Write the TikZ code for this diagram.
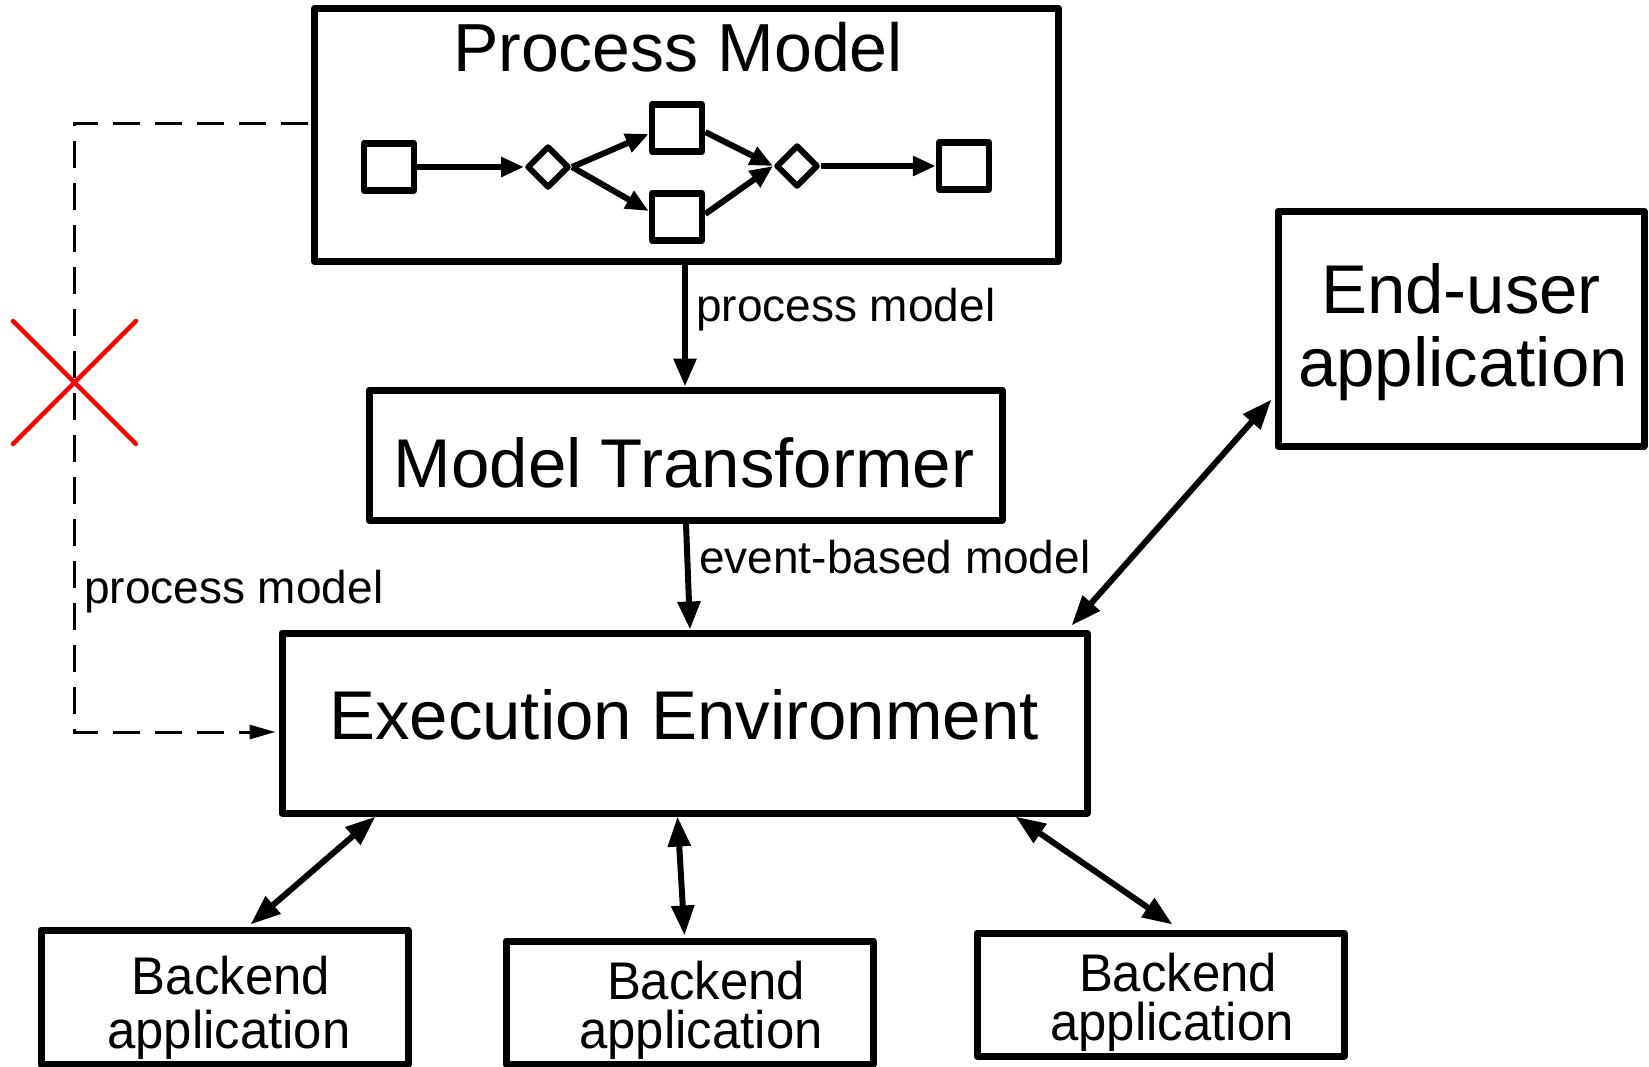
\documentclass[tikz,border=0pt]{standalone}
\usepackage{fontspec}
\setmainfont{Liberation Sans}
\newfontfamily\narrowfont[FakeStretch=0.96]{Liberation Sans}
\usetikzlibrary{arrows.meta,shapes.geometric,calc}
\begin{document}
\begin{tikzpicture}[x=1pt,y=-1pt,
  bigbox/.style={draw,line width=7pt,inner sep=0pt,line join=round},
  smallbox/.style={draw,line width=6.5pt,inner sep=0pt,minimum width=50pt,minimum height=47pt,line join=round},
  gate/.style={draw,diamond,line width=6pt,inner sep=0pt,minimum width=42pt,minimum height=42pt,line join=round},
  conn/.style={line width=6pt,-{Triangle[length=28pt,width=22pt]}},
  dconn/.style={line width=6pt,{Triangle[length=30pt,width=22pt]}-{Triangle[length=30pt,width=22pt]}},
  inconn/.style={line width=6pt,-{Triangle[length=23pt,width=19pt]}},
  dashconn/.style={line width=3pt,dash pattern=on 27pt off 15pt,-{Triangle[length=26pt,width=14pt]}},
  bigtxt/.style={anchor=base,inner sep=0pt,font=\fontsize{69}{74}\selectfont},
  lbl/.style={anchor=base west,inner sep=0pt,font=\fontsize{46}{50}\selectfont},
  btxt/.style={anchor=base,inner sep=0pt,font=\narrowfont\fontsize{53}{55}\selectfont},
  cross/.style={red,line width=4.5pt,line cap=round}]
\useasboundingbox (0,0) rectangle (1649,1066);

% main boxes
\node[bigbox,minimum width=744pt,minimum height=253pt] (pm) at (686.5,135) {};
\node[bigbox,minimum width=633pt,minimum height=130pt] (mt) at (685.5,455) {};
\node[bigbox,minimum width=805pt,minimum height=180pt] (ee) at (684.5,723) {};
\node[bigbox,minimum width=366pt,minimum height=235pt] (eu) at (1461,328.5) {};
\node[bigbox,minimum width=367pt,minimum height=134pt] (b1) at (224.5,997) {};
\node[bigbox,minimum width=367pt,minimum height=123pt] (b2) at (689.5,1002.5) {};
\node[bigbox,minimum width=367pt,minimum height=123pt] (b3) at (1160.5,994.5) {};

% texts
\node[bigtxt,font=\fontsize{68}{74}\selectfont] (pmtitle) at (678,71) {Process Model};
\node[bigtxt] (mttext) at (684,487) {Model Transformer};
\node[bigtxt] (eetext) at (684,739) {Execution Environment};
\node[bigtxt] (eutext1) at (1461,313) {End-user};
\node[bigtxt] (eutext2) at (1463,386) {application};
\node[btxt] (b1t1) at (231,994) {Backend};
\node[btxt] (b1t2) at (229,1048) {application};
\node[btxt] (b2t1) at (706,999) {Backend};
\node[btxt] (b2t2) at (701,1048) {application};
\node[btxt] (b3t1) at (1178,991) {Backend};
\node[btxt] (b3t2) at (1172,1040) {application};

% process model inner diagram
\node[smallbox] (p1) at (389,167) {};
\node[gate] (g1) at (548,167) {};
\node[smallbox] (pt) at (677,128) {};
\node[smallbox] (pb) at (677,217) {};
\node[gate] (g2) at (797,166) {};
\node[smallbox] (pe) at (964,166) {};
\draw[inconn] (p1.east) -- (g1.west);
\draw[inconn] (g1.east) -- ($(pt.west)+(0,6)$);
\draw[inconn] (g1.east) -- ($(pb.west)+(0,-6)$);
\draw[inconn] ($(pt.east)+(0,4)$) -- (g2.west);
\draw[inconn] ($(pb.east)+(0,-3)$) -- (g2.west);
\draw[inconn] (g2.east) -- (pe.west);

% main connectors
\draw[conn] (pm.south -| 685,0) -- (mt.north -| 685,0);
\node[lbl] (l1) at (696,321) {process model};
\draw[conn] ($(mt.south)+(0.5,0)$) -- ($(ee.north)+(5.5,0)$);
\node[lbl] (l2) at (699,573) {event-based model};
\draw[dconn] ($(ee.north east)+(-19,-4)$) -- ($(eu.west)+(-3,71)$);
\draw[dconn] ($(b1.north)+(26,-2)$) -- ($(ee.south west)+(97,0)$);
\draw[dconn] ($(b2.north)+(-5,-2)$) -- ($(ee.south)+(-7,0)$);
\draw[dconn] ($(b3.north)+(12,-5)$) -- ($(ee.south east)+(-75,0)$);

% dashed bypass
\coordinate (dtop) at (74,123);
\coordinate (dbot) at (74,732);
\draw[dashconn] ($(pm.west)+(-3,-12)$) -- (dtop) -- (dbot) -- ($(ee.west)+(-3,9)$);
\node[lbl] (l3) at (84,603) {process model};

% red cross
\coordinate (xc) at (74,382);
\draw[cross] (13,321) -- (136,444);
\draw[cross] (13,444) -- (136,321);
\end{tikzpicture}
\end{document}
